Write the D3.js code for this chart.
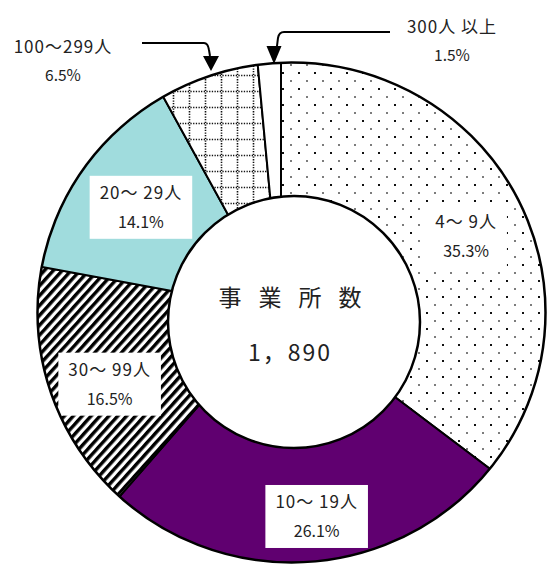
<!DOCTYPE html>
<html>
<head>
<meta charset="utf-8">
<script src="https://cdn.jsdelivr.net/npm/d3@7"></script>
<style>
  body { margin: 0; background: #fff; }
  text { font-family: "Noto Sans CJK JP", "Noto Sans", sans-serif; fill: #222; white-space: pre; }
</style>
</head>
<body>
<svg id="chart" width="547" height="574"></svg>
<script>
// Establishments by number of employees (share of total, %)
const categories = ["4～ 9人", "10～ 19人", "30～ 99人", "20～ 29人", "100～299人", "300人 以上"];
const shares = [35.3, 26.1, 16.5, 14.1, 6.5, 1.5];
const centerTitle = ["事", "業", "所", "数"];
const totalCount = 1890;

const svg = d3.select("#chart");
const defs = svg.append("defs");

// ---- fill patterns ----
const dots = defs.append("pattern").attr("id", "p-dots")
  .attr("patternUnits", "userSpaceOnUse").attr("width", 16).attr("height", 16);
dots.append("rect").attr("width", 16).attr("height", 16).attr("fill", "#fff");
dots.append("rect").attr("x", 1).attr("y", 1).attr("width", 2).attr("height", 2).attr("fill", "#111");
dots.append("rect").attr("x", 9.2).attr("y", 9.2).attr("width", 1.6).attr("height", 1.6).attr("fill", "#333");

const stripes = defs.append("pattern").attr("id", "p-stripes")
  .attr("patternUnits", "userSpaceOnUse").attr("width", 6.6).attr("height", 10)
  .attr("patternTransform", "rotate(42)");
stripes.append("rect").attr("width", 6.6).attr("height", 10).attr("fill", "#fff");
stripes.append("rect").attr("x", 0).attr("width", 3.4).attr("height", 10).attr("fill", "#000");

const grid = defs.append("pattern").attr("id", "p-grid")
  .attr("patternUnits", "userSpaceOnUse").attr("width", 16).attr("height", 16);
grid.append("rect").attr("width", 16).attr("height", 16).attr("fill", "#fff");
grid.append("path").attr("d", "M0,4.5H16M4.5,0V16")
  .attr("stroke", "#111").attr("stroke-width", 1.6).attr("stroke-dasharray", "1.3,1.4");

const fills = ["url(#p-dots)", "#600070", "url(#p-stripes)", "#a0dcdd", "url(#p-grid)", "#fff"];

// ---- geometry ----
const cx = 281, cy = 311;               // centre of the wedges
const ring = { cx: 291.5, cy: 312.5, rx: 254, ry: 250 };  // outer rim
const hole = { cx: 294, cy: 322, r: 126 };                // inner hole

defs.append("clipPath").attr("id", "rim")
  .append("ellipse").attr("cx", ring.cx).attr("cy", ring.cy).attr("rx", ring.rx).attr("ry", ring.ry);

const pie = d3.pie().sort(null).value(d => d)(shares);
const wedge = d3.arc().innerRadius(0).outerRadius(420);
const labelArc = d3.arc().innerRadius(190).outerRadius(190);

const body = svg.append("g").attr("clip-path", "url(#rim)");
const wedges = body.append("g").attr("transform", `translate(${cx},${cy})`);
wedges.selectAll("path").data(pie).join("path")
  .attr("d", wedge)
  .attr("fill", (d, i) => fills[i])
  .attr("stroke", "#000").attr("stroke-width", 2).attr("stroke-linejoin", "round");

// ---- inside labels with white boxes ----
const fmtPct = d => d3.format(".1f")(d) + "%";
const nudges = [[15, 10], [16, 16], [8, 10], [14, 7]];
const labelLayer = svg.append("g");
pie.slice(0, 4).forEach((d, i) => {
  const [x0, y0] = labelArc.centroid(d);
  const x = cx + x0 + nudges[i][0], y = cy + y0 + nudges[i][1];
  const g = labelLayer.append("g").attr("transform", `translate(${x},${y})`);
  const box = g.append("rect").attr("fill", "#fff");
  const t1 = g.append("text").attr("text-anchor", "middle").attr("y", -8)
    .attr("font-size", 17).attr("letter-spacing", 1).text(categories[i]);
  const t2 = g.append("text").attr("text-anchor", "middle").attr("y", 21)
    .attr("font-size", 16).text(fmtPct(shares[i]));
  const b1 = t1.node().getBBox(), b2 = t2.node().getBBox();
  const x1 = Math.min(b1.x, b2.x) - 10, x2 = Math.max(b1.x + b1.width, b2.x + b2.width) + 10;
  box.attr("x", x1).attr("y", -31).attr("width", x2 - x1).attr("height", 63);
});

// ---- hole and outlines ----
svg.append("circle").attr("cx", hole.cx).attr("cy", hole.cy).attr("r", hole.r)
  .attr("fill", "#fff").attr("stroke", "#000").attr("stroke-width", 2.5);
svg.append("ellipse").attr("cx", ring.cx).attr("cy", ring.cy).attr("rx", ring.rx).attr("ry", ring.ry)
  .attr("fill", "none").attr("stroke", "#000").attr("stroke-width", 2.5);

// ---- centre text ----
const charX = d3.scalePoint().domain(centerTitle).range([230, 350]);
svg.append("g").selectAll("text").data(centerTitle).join("text")
  .attr("x", d => charX(d)).attr("y", 306).attr("text-anchor", "middle")
  .attr("font-size", 23).text(d => d);
svg.append("text").attr("x", 290).attr("y", 361).attr("text-anchor", "middle")
  .attr("font-size", 23).attr("letter-spacing", 2)
  .text(d3.format(",")(totalCount).replace(",", "，"));

// ---- outside labels with arrows ----
const outside = [
  { i: 4, x: 63, y1: 53, y2: 81 },
  { i: 5, x: 452, y1: 33, y2: 61 }
];
outside.forEach(o => {
  svg.append("text").attr("x", o.x).attr("y", o.y1).attr("text-anchor", "middle")
    .attr("font-size", 17).attr("letter-spacing", 1).text(categories[o.i]);
  svg.append("text").attr("x", o.x).attr("y", o.y2).attr("text-anchor", "middle")
    .attr("font-size", 15.5).text(fmtPct(shares[o.i]));
});

const arrows = [
  { path: "M142,43H204Q208,43 209,50L210,56", tip: [211, 71], base: 56, half: 8 },
  { path: "M390,32H284Q279,32 278,38L277,46", tip: [274, 64], base: 46, half: 7.5 }
];
arrows.forEach(a => {
  svg.append("path").attr("d", a.path).attr("fill", "none").attr("stroke", "#000").attr("stroke-width", 2);
  svg.append("path")
    .attr("d", `M${a.tip[0]},${a.tip[1]}L${a.tip[0] - a.half},${a.base}L${a.tip[0] + a.half},${a.base}Z`)
    .attr("fill", "#000");
});
</script>
</body>
</html>
